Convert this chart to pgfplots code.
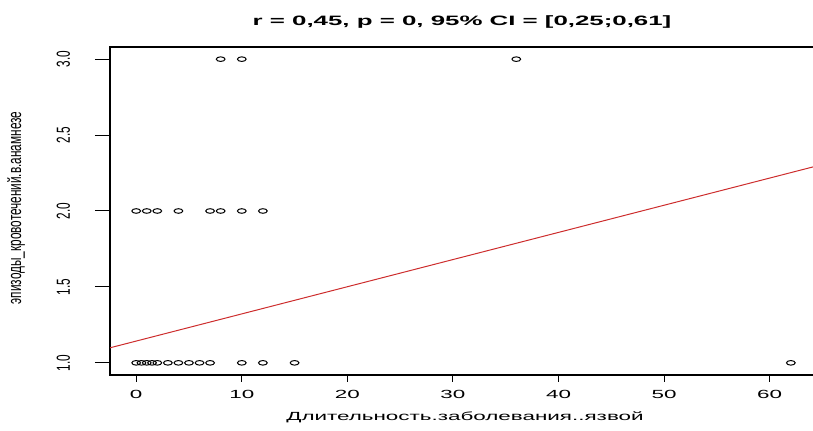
\documentclass[border=0pt]{standalone}
\usepackage{fontspec}
\setmainfont{Liberation Sans}
\usepackage{pgfplots}
\pgfplotsset{compat=1.18}
\definecolor{lred}{RGB}{205,45,45}
\begin{document}
\begin{tikzpicture}
\useasboundingbox (0,0) rectangle (406.5pt,215.5pt);
\begin{axis}[
  at={(55pt,28pt)}, anchor=south west,
  scale only axis, width=353.5pt, height=164pt,
  xmin=-2.48, xmax=64.48, ymin=0.92, ymax=3.08,
  xtick={0,10,20,30,40,50,60}, ytick={1,1.5,2,2.5,3},
  tick pos=left, tick align=outside,
  xtick style={black, line width=0.5pt, /pgfplots/major tick length=3.5pt},
  ytick style={black, line width=0.5pt, /pgfplots/major tick length=7.5pt},
  axis line style={line width=0.6pt},
  /pgf/number format/assume math mode=true,
  ticklabel style={font=\fontsize{5.9}{7}\selectfont},
  xticklabel style={xscale=1.9},
  yticklabel style={xshift=-10pt, xscale=1.6, rotate=90, anchor=south, /pgf/number format/.cd, fixed, fixed zerofill, precision=1},
]
\addplot[only marks, mark=o, mark size=1.15pt, mark options={xscale=1.9, line width=0.5pt, black}]
coordinates {
(0,1) (0.5,1) (1,1) (1.5,1) (2,1) (3,1) (4,1) (5,1) (6,1) (7,1) (10,1) (12,1) (15,1) (62,1)
(0,2) (1,2) (2,2) (4,2) (7,2) (8,2) (10,2) (12,2)
(8,3) (10,3) (36,3)
};
\addplot[lred, line width=0.5pt] coordinates {(-2.48,1.099) (64.48,2.297)};
\end{axis}
\node[anchor=base, xscale=1.9, font=\bfseries\fontsize{6.8}{8}\selectfont] at (231pt,202.5pt) {r = 0,45, p = 0, 95\% CI = [0,25;0,61]};
\node[anchor=base, xscale=1.9, font=\fontsize{5.9}{7}\selectfont] at (232.5pt,5pt) {Длительность.заболевания..язвой};
\node[xscale=1.6, rotate=90, font=\fontsize{5.9}{7}\selectfont] at (8pt,111.5pt) {эпизоды\_кровотечений.в.анамнезе};
\end{tikzpicture}
\end{document}
